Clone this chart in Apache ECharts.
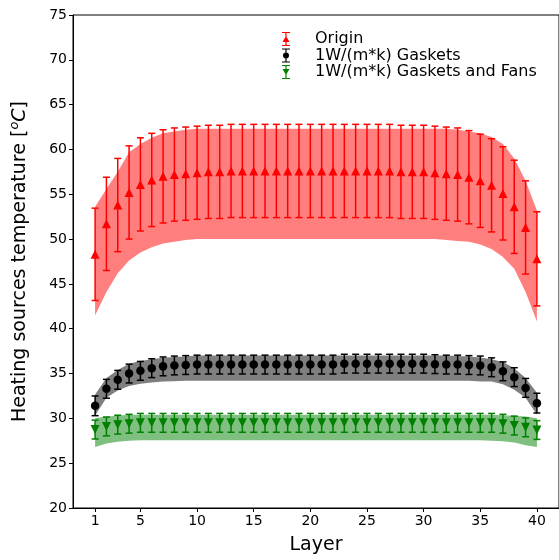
<!DOCTYPE html>
<html>
<head>
<meta charset="utf-8">
<script src="https://cdn.jsdelivr.net/npm/echarts@6/dist/echarts.min.js"></script>
<style>
  html, body { margin: 0; padding: 0; background: #fff; }
  #chart { width: 559px; height: 560px; }
</style>
</head>
<body>
<div id="chart"></div>
<script>
// 数据
var layers = [1,2,3,4,5,6,7,8,9,10,11,12,13,14,15,16,17,18,19,20,21,22,23,24,25,26,27,28,29,30,31,32,33,34,35,36,37,38,39,40];
var xTicks = [1, 5, 10, 15, 20, 25, 30, 35, 40];

var originMean = [48.3,51.7,53.8,55.2,56.1,56.6,57.0,57.2,57.3,57.4,57.5,57.5,57.6,57.6,57.6,57.6,57.6,57.6,57.6,57.6,57.6,57.6,57.6,57.6,57.6,57.6,57.6,57.5,57.5,57.5,57.4,57.3,57.2,56.9,56.5,56.0,55.1,53.6,51.3,47.8];
var originErr = [5.15,5.2,5.2,5.2,5.2,5.2,5.2,5.2,5.2,5.2,5.2,5.2,5.2,5.2,5.2,5.2,5.2,5.2,5.2,5.2,5.2,5.2,5.2,5.2,5.2,5.2,5.2,5.2,5.2,5.2,5.2,5.2,5.2,5.2,5.2,5.2,5.2,5.2,5.2,5.25];
var originLow = [41.5,44.1,46.2,47.6,48.5,49.1,49.5,49.7,49.9,50.0,50.0,50.0,50.0,50.0,50.0,50.0,50.0,50.0,50.0,50.0,50.0,50.0,50.0,50.0,50.0,50.0,50.0,50.0,50.0,50.0,50.0,49.9,49.8,49.7,49.4,48.9,48.0,46.7,44.1,40.8];
var originHigh = [53.6,55.6,57.5,59.7,60.6,61.3,61.8,62.0,62.2,62.3,62.3,62.3,62.3,62.3,62.3,62.3,62.3,62.3,62.3,62.3,62.3,62.3,62.3,62.3,62.3,62.3,62.3,62.3,62.3,62.3,62.3,62.3,62.2,62.0,61.8,61.4,60.6,59.0,56.5,53.2];

var gasketMean = [31.4,33.3,34.3,35.0,35.3,35.6,35.8,35.9,35.95,36.0,36.0,36.0,36.0,36.0,36.0,36.0,36.0,36.0,36.0,36.0,36.0,36.0,36.1,36.1,36.1,36.1,36.1,36.1,36.1,36.1,36.05,36.0,36.0,35.95,35.9,35.7,35.25,34.6,33.4,31.7];
var gasketErr = [1.1,1.05,1.05,1.05,1.05,1.05,1.05,1.05,1.05,1.05,1.05,1.05,1.05,1.05,1.05,1.05,1.05,1.05,1.05,1.05,1.05,1.05,1.05,1.05,1.05,1.05,1.05,1.05,1.05,1.05,1.05,1.05,1.05,1.05,1.05,1.05,1.05,1.05,1.05,1.1];
var gasketLow = [30.3,32.3,33.1,33.6,33.85,34.0,34.1,34.15,34.2,34.2,34.2,34.2,34.2,34.2,34.2,34.2,34.2,34.2,34.2,34.2,34.2,34.2,34.2,34.2,34.2,34.2,34.2,34.2,34.2,34.2,34.2,34.2,34.2,34.2,34.1,34.1,33.8,33.2,32.3,30.4];
var gasketHigh = [32.65,34.5,35.4,36.1,36.4,36.6,36.75,36.85,36.9,37.0,37.0,37.0,37.0,37.0,37.0,37.0,37.0,37.0,37.0,37.0,37.0,37.0,37.0,37.0,37.0,37.0,37.0,37.0,37.0,37.0,37.0,37.0,36.95,36.9,36.8,36.6,36.3,35.6,34.5,32.85];

var fansMean = [28.75,29.1,29.3,29.4,29.5,29.5,29.5,29.5,29.5,29.5,29.5,29.5,29.5,29.5,29.5,29.5,29.5,29.5,29.5,29.5,29.5,29.5,29.5,29.5,29.5,29.5,29.5,29.5,29.5,29.5,29.5,29.5,29.5,29.5,29.5,29.5,29.4,29.2,29.0,28.7];
var fansErr = [1.05,1.05,1.05,1.05,1.05,1.05,1.05,1.05,1.05,1.05,1.05,1.05,1.05,1.05,1.05,1.05,1.05,1.05,1.05,1.05,1.05,1.05,1.05,1.05,1.05,1.05,1.05,1.05,1.05,1.05,1.05,1.05,1.05,1.05,1.05,1.05,1.05,1.05,1.05,1.05];
var fansLow = [26.8,27.2,27.4,27.5,27.55,27.55,27.55,27.55,27.55,27.55,27.55,27.55,27.55,27.55,27.55,27.55,27.55,27.55,27.55,27.55,27.55,27.55,27.55,27.55,27.55,27.55,27.55,27.55,27.55,27.55,27.55,27.55,27.55,27.55,27.55,27.5,27.45,27.3,27.0,26.8];
var fansHigh = [30.0,30.2,30.3,30.4,30.4,30.4,30.4,30.4,30.4,30.4,30.4,30.4,30.4,30.4,30.4,30.4,30.4,30.4,30.4,30.4,30.4,30.4,30.4,30.4,30.4,30.4,30.4,30.4,30.4,30.4,30.4,30.4,30.4,30.4,30.4,30.4,30.35,30.3,30.2,30.0];

var FONT = 'DejaVu Sans';

function pairs(ys) {
  return layers.map(function (x, i) { return [x, ys[i]]; });
}
function rangeData(lo, hi) {
  return layers.map(function (x, i) { return [x, lo[i], hi[i]]; });
}
function errData(mean, err) {
  return layers.map(function (x, i) { return [x, mean[i] - err[i], mean[i] + err[i]]; });
}

// 阴影带：整条多边形在第一个数据项里画
function band(name, lo, hi, fill) {
  return {
    name: name + '_band', type: 'custom', z: 1, silent: true,
    data: rangeData(lo, hi),
    encode: { x: 0, y: [1, 2] },
    renderItem: function (params, api) {
      if (params.dataIndexInside !== 0) return null;
      var n = params.dataInsideLength;
      var top = [], bottom = [];
      for (var i = 0; i < n; i++) {
        var x = api.value(0, i);
        top.push(api.coord([x, api.value(2, i)]));
        bottom.push(api.coord([x, api.value(1, i)]));
      }
      var pts = top.concat(bottom.reverse());
      return { type: 'polygon', shape: { points: pts }, style: { fill: fill } };
    }
  };
}

// 误差棒
function errorBars(name, mean, err, color) {
  return {
    name: name + '_err', type: 'custom', z: 3, silent: true,
    data: errData(mean, err),
    encode: { x: 0, y: [1, 2] },
    renderItem: function (params, api) {
      var x = api.value(0);
      var pLo = api.coord([x, api.value(1)]);
      var pHi = api.coord([x, api.value(2)]);
      var cap = 3.5;
      var st = { stroke: color, lineWidth: 1.5 };
      return {
        type: 'group',
        children: [
          { type: 'line', shape: { x1: pLo[0], y1: pLo[1], x2: pHi[0], y2: pHi[1] }, style: st },
          { type: 'line', shape: { x1: pHi[0] - cap, y1: pHi[1], x2: pHi[0] + cap, y2: pHi[1] }, style: st },
          { type: 'line', shape: { x1: pLo[0] - cap, y1: pLo[1], x2: pLo[0] + cap, y2: pLo[1] }, style: st }
        ]
      };
    }
  };
}

var iconUp = 'path://M0,0H8V1H4.6V13H8V14H0V13H3.4V1H0Z M4,4L7.5,10H0.5Z';
var iconDot = 'path://M0,0H8V1H4.6V13H8V14H0V13H3.4V1H0Z M4,4A3,3 0 1,1 4,10A3,3 0 1,1 4,4Z';
var iconDown = 'path://M0,0H8V1H4.6V13H8V14H0V13H3.4V1H0Z M0.5,4H7.5L4,10Z';

var chart = echarts.init(document.getElementById('chart'));

var series = [
  band('origin', originLow, originHigh, 'rgba(255,0,0,0.5)'),
  band('gasket', gasketLow, gasketHigh, 'rgba(0,0,0,0.5)'),
  band('fans', fansLow, fansHigh, 'rgba(0,128,0,0.5)'),
  errorBars('origin', originMean, originErr, '#ff0000'),
  errorBars('gasket', gasketMean, gasketErr, '#000000'),
  errorBars('fans', fansMean, fansErr, '#008000'),
  {
    name: 'Origin', type: 'scatter', z: 4, data: pairs(originMean),
    symbol: 'triangle', symbolSize: 9, itemStyle: { color: '#ff0000', opacity: 1 }
  },
  {
    name: '1W/(m*k) Gaskets', type: 'scatter', z: 4, data: pairs(gasketMean),
    symbol: 'circle', symbolSize: 8.5, itemStyle: { color: '#000000', opacity: 1 }
  },
  {
    name: '1W/(m*k) Gaskets and Fans', type: 'scatter', z: 4, data: pairs(fansMean),
    symbol: 'triangle', symbolRotate: 180, symbolSize: 9, itemStyle: { color: '#008000', opacity: 1 }
  }
];

var option = {
  animation: false,
  backgroundColor: '#fff',
  grid: {
    left: 68, right: -7, top: 15, bottom: 49,
    show: true, borderColor: '#000', borderWidth: 1, backgroundColor: 'transparent'
  },
  legend: {
    orient: 'vertical',
    left: 277, top: 26,
    itemWidth: 8, itemHeight: 14, itemGap: 0.5,
    selectedMode: false,
    formatter: function (name) { return '{a|' + name + '}'; },
    textStyle: {
      color: '#000', fontFamily: FONT, fontSize: 16,
      rich: { a: { fontFamily: FONT, fontSize: 16, lineHeight: 16, color: '#000', padding: [0, 0, 0, 20] } }
    },
    data: [
      { name: 'Origin', icon: iconUp },
      { name: '1W/(m*k) Gaskets', icon: iconDot },
      { name: '1W/(m*k) Gaskets and Fans', icon: iconDown }
    ]
  },
  xAxis: {
    type: 'value', min: -0.95, max: 41.95,
    name: 'Layer', nameLocation: 'middle', nameGap: 28,
    nameTextStyle: { fontFamily: FONT, fontSize: 19, color: '#000' },
    axisLine: { show: true, onZero: false, lineStyle: { color: '#000', width: 1 } },
    axisTick: { show: true, length: 4, lineStyle: { color: '#000' }, customValues: xTicks },
    axisLabel: { fontFamily: FONT, fontSize: 14, color: '#000', margin: 6, customValues: xTicks },
    splitLine: { show: false }
  },
  yAxis: {
    type: 'value', min: 20, max: 75, interval: 5,
    name: '{t|Heating sources temperature [}{s|o}{c|C}{t|]}',
    nameLocation: 'middle', nameGap: 40,
    nameTextStyle: {
      fontFamily: FONT, fontSize: 19, color: '#000',
      rich: {
        t: { fontFamily: FONT, fontSize: 19, color: '#000' },
        s: { fontFamily: FONT, fontSize: 13, fontStyle: 'italic', color: '#000', padding: [0, 0, 12, 0] },
        c: { fontFamily: FONT, fontSize: 19, fontStyle: 'italic', color: '#000' }
      }
    },
    axisLine: { show: true, onZero: false, lineStyle: { color: '#000', width: 1 } },
    axisTick: { show: true, length: 4, lineStyle: { color: '#000' } },
    axisLabel: { fontFamily: FONT, fontSize: 14, color: '#000', margin: 6 },
    splitLine: { show: false }
  },
  series: series
};

chart.setOption(option);
</script>
</body>
</html>
